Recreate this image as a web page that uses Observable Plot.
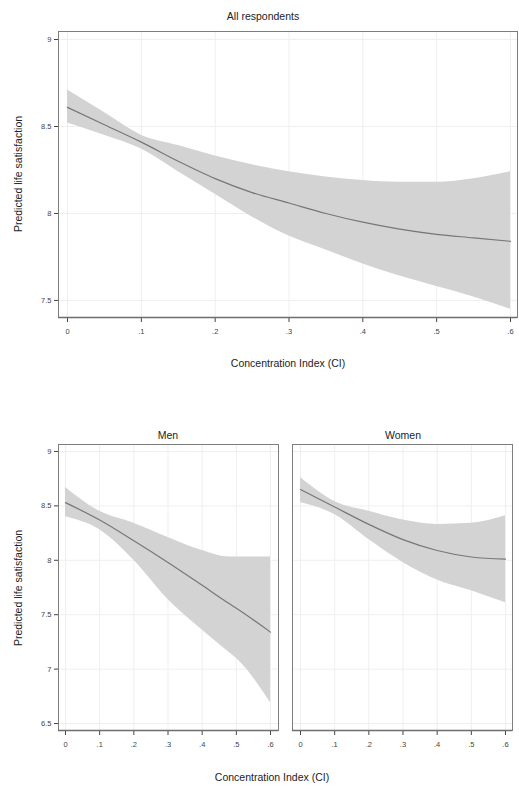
<!DOCTYPE html>
<html><head><meta charset="utf-8">
<script src="https://cdn.jsdelivr.net/npm/d3@7"></script>
<script src="https://cdn.jsdelivr.net/npm/@observablehq/plot@0.6"></script>
<style>
body{margin:0;background:#fff;font-family:"Liberation Sans",Arial,sans-serif;}
#root{position:relative;width:519px;height:791px;overflow:hidden;background:#fff;}
.pl{position:absolute;}
.lbl{position:absolute;font-size:10.5px;color:#222;white-space:nowrap;transform:translate(-50%,-50%);}
.ylbl{position:absolute;font-size:10.5px;color:#222;white-space:nowrap;transform:translate(-50%,-50%) rotate(-90deg);}
</style></head><body><div id="root"></div>
<script>
// ---- data ----
const ciAll   = [0, 0.05, 0.1, 0.15, 0.2, 0.25, 0.3, 0.35, 0.4, 0.45, 0.5, 0.55, 0.6];
const meanAll = [8.61, 8.51, 8.41, 8.30, 8.20, 8.12, 8.06, 8.00, 7.95, 7.91, 7.88, 7.86, 7.84];
const hiAll   = [8.71, 8.58, 8.45, 8.39, 8.33, 8.28, 8.24, 8.21, 8.19, 8.18, 8.18, 8.20, 8.24];
const loAll   = [8.52, 8.45, 8.37, 8.24, 8.11, 7.98, 7.87, 7.79, 7.71, 7.64, 7.58, 7.52, 7.45];

const ciMen   = [0, 0.1, 0.2, 0.3, 0.4, 0.48, 0.5, 0.6];
const meanMen = [8.53, 8.37, 8.18, 7.98, 7.77, 7.60, 7.56, 7.34];
const hiMen   = [8.67, 8.45, 8.34, 8.21, 8.09, 8.03, 8.03, 8.03];
const loMen   = [8.40, 8.28, 8.00, 7.64, 7.36, 7.15, 7.10, 6.69];

const ciWomen   = [0, 0.1, 0.2, 0.3, 0.4, 0.5, 0.6];
const meanWomen = [8.65, 8.49, 8.33, 8.19, 8.09, 8.03, 8.01];
const hiWomen   = [8.76, 8.54, 8.45, 8.37, 8.33, 8.34, 8.41];
const loWomen   = [8.53, 8.42, 8.19, 7.98, 7.82, 7.72, 7.61];

const xTicks = [0, 0.1, 0.2, 0.3, 0.4, 0.5, 0.6];
const yTicksTop = [7.5, 8, 8.5, 9];
const yTicksBottom = [6.5, 7, 7.5, 8, 8.5, 9];

const titleTop = "All respondents";
const titleMen = "Men";
const titleWomen = "Women";
const yLabel = "Predicted life satisfaction";
const xLabel = "Concentration Index (CI)";

// ---- helpers ----
const fmtX = d => d === 0 ? "0" : String(+d.toFixed(1)).replace(/^0/, "");
const fmtY = d => String(d);
const rowsOf = (ci, m, hi, lo) => ci.map((c, i) => ({ci: c, mean: m[i], hi: hi[i], lo: lo[i]}));

function panel(rows, o) {
  const curve = "monotone-x";
  const marks = [
    Plot.ruleX(xTicks, {stroke: "#efefef", strokeWidth: 1}),
    Plot.ruleY(o.yTicks, {stroke: "#efefef", strokeWidth: 1}),
    Plot.areaY(rows, {x: "ci", y1: "lo", y2: "hi", fill: "#d3d3d3", curve}),
    Plot.line(rows, {x: "ci", y: "mean", stroke: "#777777", strokeWidth: 1.2, curve}),
    Plot.frame({stroke: "#7d7d7d", strokeWidth: 1}),
    Plot.ruleY([o.yDomain[0]], {stroke: "#6e6e6e", strokeWidth: 1.6})
  ];
  return Plot.plot({
    width: o.width, height: o.height,
    marginLeft: o.ml, marginRight: o.mr, marginTop: o.mt, marginBottom: o.mb,
    style: {fontFamily: "Liberation Sans, Arial, sans-serif", fontSize: "7.5px", color: "#444", background: "transparent", overflow: "visible"},
    x: {domain: o.xDomain, ticks: xTicks, tickFormat: fmtX, tickSize: 5, tickPadding: 6, label: null},
    y: {domain: o.yDomain, ticks: o.showY ? o.yTicks : [], tickFormat: fmtY, tickSize: 4, tickPadding: 3, label: null, axis: o.showY ? "left" : null},
    marks
  });
}

const root = document.getElementById("root");
function place(node, left, top) { node.classList.add("pl"); node.style.left = left + "px"; node.style.top = top + "px"; root.appendChild(node); }
function text(t, cls, x, y) { const d = document.createElement("div"); d.className = cls; d.textContent = t; d.style.left = x + "px"; d.style.top = y + "px"; root.appendChild(d); }

// top panel: frame 58..517 x 31..317
place(panel(rowsOf(ciAll, meanAll, hiAll, loAll), {
  width: 519, height: 345, ml: 58, mr: 2, mt: 31, mb: 28,
  xDomain: [-0.0122, 0.6095], yDomain: [7.402, 9.046], yTicks: yTicksTop, showY: true
}), 0, 0);

// men: frame 58..278 x 444..730
place(panel(rowsOf(ciMen, meanMen, hiMen, loMen), {
  width: 285, height: 360, ml: 58, mr: 7, mt: 44, mb: 30,
  xDomain: [-0.0205, 0.6234], yDomain: [6.436, 9.064], yTicks: yTicksBottom, showY: true
}), 0, 400);

// women: frame 292..512 x 444..730
place(panel(rowsOf(ciWomen, meanWomen, hiWomen, loWomen), {
  width: 234, height: 360, ml: 7, mr: 7, mt: 44, mb: 30,
  xDomain: [-0.0234, 0.6205], yDomain: [6.436, 9.064], yTicks: yTicksBottom, showY: false
}), 285, 400);

text(titleTop, "lbl", 263, 16);
text(titleMen, "lbl", 168, 435);
text(titleWomen, "lbl", 403, 435);
text(yLabel, "ylbl", 18, 174);
text(yLabel, "ylbl", 18, 588);
text(xLabel, "lbl", 288, 363);
text(xLabel, "lbl", 272, 777);
</script></body></html>
